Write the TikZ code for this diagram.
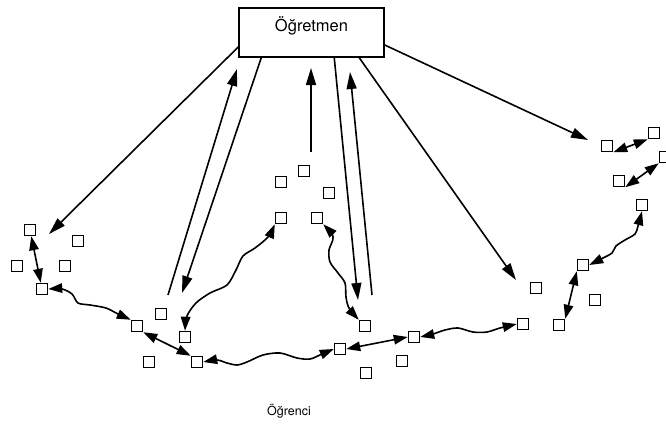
\documentclass[tikz,border=0pt]{standalone}
\usepackage{fontspec}
\setmainfont{TeX Gyre Heros}
\usetikzlibrary{arrows.meta}
\tikzset{>={Triangle[length=14pt,width=9.5pt]},
sq/.style={rectangle,draw,line width=1.5pt,minimum size=11pt,inner sep=0pt},
box/.style={rectangle,draw,line width=1.5pt,minimum width=145pt,minimum height=49pt,text height=12pt,text depth=14pt,font=\fontsize{16.5}{18}\selectfont},
lbl/.style={font=\fontsize{12.5}{14}\selectfont},
lnk/.style={<->,line width=1.6pt},
tch/.style={->,>={Triangle[length=17pt,width=10pt]},line width=1.6pt},
}
\begin{document}
\begin{tikzpicture}[x=1pt,y=-1pt]
	\useasboundingbox (0,0) rectangle (666,423);
	\node[box] (ogretmen) at (311.5,32.5) {Öğretmen};

	% left group
	\node[sq] (a1) at (30,230) {};
	\node[sq] (a2) at (78,241) {};
	\node[sq] (a3) at (17,266) {};
	\node[sq] (a4) at (65,266) {};
	\node[sq] (a5) at (42,289) {};
	\node[sq] (b1) at (137,326) {};
	\node[sq] (b2) at (161,314) {};
	\node[sq] (b3) at (185,337) {};
	\node[sq] (b4) at (149,362) {};
	\node[sq] (b5) at (197,362) {};

	% middle group
	\node[sq] (c1) at (281,182) {};
	\node[sq] (c2) at (304,171) {};
	\node[sq] (c3) at (329,193) {};
	\node[sq] (c4) at (281,218) {};
	\node[sq] (c5) at (317,218) {};
	\node[sq] (d1) at (365,326) {};
	\node[sq] (d2) at (340,349) {};
	\node[sq] (d3) at (414,337) {};
	\node[sq] (d4) at (402,361) {};
	\node[sq] (d5) at (366,373) {};
	\node[sq] (d6) at (523,324) {};
	\node[sq] (d7) at (536,288) {};

	% right group
	\node[sq] (e1) at (607,146) {};
	\node[sq] (e2) at (654,133) {};
	\node[sq] (e3) at (665,157) {};
	\node[sq] (e4) at (619,181) {};
	\node[sq] (e5) at (642,205) {};
	\node[sq] (e6) at (583,265) {};
	\node[sq] (e7) at (595,300) {};
	\node[sq] (e8) at (559,325) {};

	\node[lbl] (ogrenci) at (289,411) {Öğrenci};

	% free ends of the teacher arrows
	\coordinate (p1) at (49,234);
	\coordinate (p2) at (168,295);
	\coordinate (u2) at (237,69);
	\coordinate (p3) at (182,293);
	\coordinate (p4) at (311,152);
	\coordinate (u4) at (311,68);
	\coordinate (p5) at (358,300);
	\coordinate (p6) at (372,295);
	\coordinate (u6) at (350,72);
	\coordinate (p7) at (516,280);
	\coordinate (p8) at (588,140);

	\path[tch]
	([yshift=-14.5pt]ogretmen.west) edge (p1)
	(p2) edge (u2)
	([xshift=23pt]ogretmen.south west) edge (p3)
	(p4) edge (u4)
	([xshift=96pt]ogretmen.south west) edge (p5)
	(p6) edge (u6)
	([xshift=121pt]ogretmen.south west) edge (p7)
	([yshift=-12.5pt]ogretmen.east) edge (p8)
	;

	\path[lnk]
	(a1) edge (a5)
	(b1.south east) edge (b5.north west)
	(d2.east) edge (d3.west)
	(e1.south east) edge (e2.south west)
	(e3.south west) edge (e4.south east)
	(e6.south west) edge (e8.north east)
	;

	\draw[lnk] plot[smooth] coordinates {(a5.east) (62,289) (72,294) (78,303) (90,305) (106,308) (118,314) (b1.north west)};
	\draw[lnk] plot[smooth] coordinates {(c4.south west) (268,237) (255,248) (243,256) (236,270) (227,285) (210,293) (196,303) (187,316) (b3.north)};
	\draw[lnk] plot[smooth] coordinates {(b5.east) (217,360) (227,363) (237,365) (247,362) (263,355) (280,353) (297,358) (310,359) (322,354) (d2.west)};
	\draw[lnk] plot[smooth] coordinates {(d3.east) (433,334) (445,330) (458,328) (473,332) (487,332) (500,328) (d6.west)};
	\draw[lnk] plot[smooth] coordinates {(c5.south east) (333,237) (329,250) (330,262) (338,273) (345,283) (346,297) (349,308) (d1.north west)};
	\draw[lnk] plot[smooth] coordinates {(e5.south) (638,226) (635,234) (625,240) (616,246) (612,253) (603,258) (e6.east)};
\end{tikzpicture}
\end{document}
